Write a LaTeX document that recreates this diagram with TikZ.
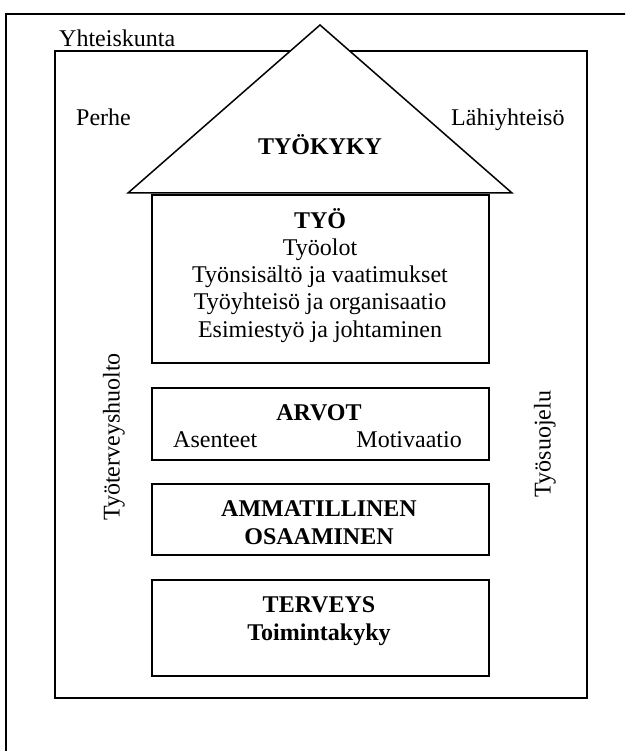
\documentclass[tikz,border=0pt]{standalone}
\usepackage{fontspec}
\setmainfont{Liberation Serif}
\begin{document}
\begin{tikzpicture}[x=1pt,y=-1pt,
  frame/.style={draw=black,line width=1.5pt},
  boxnode/.style={draw=black,line width=1.7pt,fill=white,inner sep=0pt,anchor=north west},
  txt/.style={font=\fontsize{24}{27}\selectfont,inner sep=0pt},
  btxt/.style={font=\fontsize{24}{27}\selectfont\bfseries,inner sep=0pt}]
\useasboundingbox (0,0) rectangle (625,751);
\clip (0,0) rectangle (625,751);
% outer frame (extends beyond the page at right and bottom)
\draw[frame] (6,14) rectangle (640,770);
% inner frame
\draw[frame] (55,51) rectangle (587,698);
% roof
\draw[line width=1.5pt,fill=white,line join=miter] (128,193) -- (320,25) -- (512,193) -- cycle;
% outer labels
\node[txt,anchor=base west] (yht) at (59,47) {Yhteiskunta};
\node[txt,anchor=base west] (perhe) at (76,126) {Perhe};
\node[txt,anchor=base west] (lahi) at (451,126) {Lähiyhteisö};
\node[btxt,anchor=base] (tyokyky) at (320,155) {TYÖKYKY};
\node[txt,rotate=90] (tth) at (114,437) {Työterveyshuolto};
\node[txt,rotate=90] (tsu) at (545,444) {Työsuojelu};
% boxes
\node[boxnode,minimum width=337pt,minimum height=168pt] (tyo) at (151,194) {};
\node[boxnode,minimum width=337pt,minimum height=72pt] (arvot) at (151,387) {};
\node[boxnode,minimum width=337pt,minimum height=71pt] (amm) at (151,483) {};
\node[boxnode,minimum width=337pt,minimum height=96pt] (terv) at (151,579) {};
% box texts
\node[btxt,anchor=base] (t1) at (320,228) {TYÖ};
\node[txt,anchor=base] (t2) at (320,255) {Työolot};
\node[txt,anchor=base] (t3) at (320,282) {Työnsisältö ja vaatimukset};
\node[txt,anchor=base] (t4) at (320,309) {Työyhteisö ja organisaatio};
\node[txt,anchor=base] (t5) at (320,337) {Esimiestyö ja johtaminen};
\node[btxt,anchor=base] (a1) at (319,420) {ARVOT};
\node[txt,anchor=base west] (a2) at (173,447) {Asenteet};
\node[txt,anchor=base east] (a3) at (462,447) {Motivaatio};
\node[btxt,anchor=base] (m1) at (319,516) {AMMATILLINEN};
\node[btxt,anchor=base] (m2) at (319,544) {OSAAMINEN};
\node[btxt,anchor=base] (h1) at (319,612) {TERVEYS};
\node[btxt,anchor=base] (h2) at (319,640) {Toimintakyky};
\end{tikzpicture}
\end{document}
